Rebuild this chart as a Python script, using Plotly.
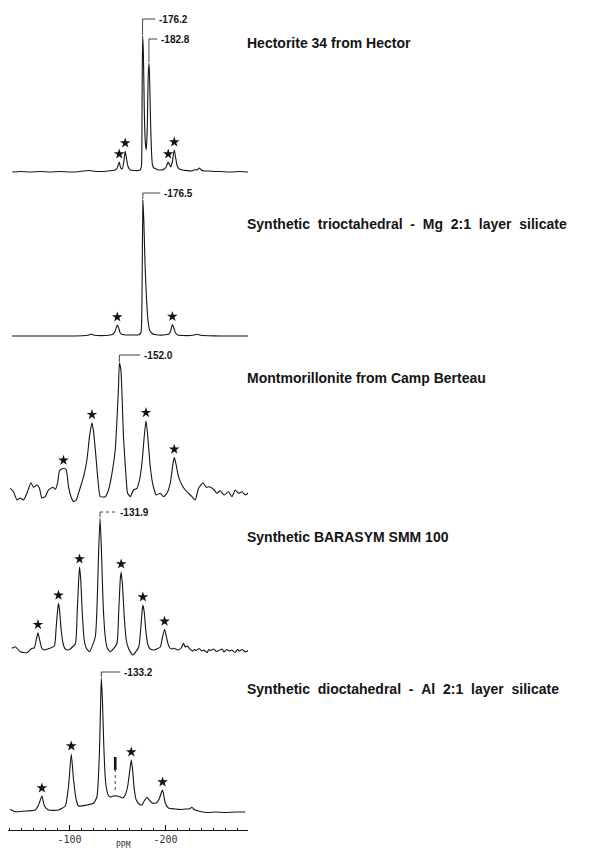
import plotly.graph_objects as go

# ---------------- data (chemical shift magnitude in ppm, intensity a.u.) ----------------
hectorite = [
    (40.4, 0), (48.7, 0.5), (59.2, 0), (69.6, 0.5), (80.0, 0), (90.4, 0.5), (100.8, 0),
    (111.2, 0.5), (119.6, 1.5), (123.7, 1), (132.1, 0.5), (140.4, 1), (144.6, 1.5),
    (147.7, 2), (149.8, 4), (151.9, 10), (153.4, 4), (155.0, 3), (156.6, 10), (158.1, 21),
    (159.7, 12), (161.2, 5), (163.3, 2), (167.5, 1.5), (171.7, 1.5), (173.7, 2), (175.0, 6),
    (175.6, 60), (176.2, 136), (177.0, 120), (178.0, 60), (179.0, 30), (180.0, 22),
    (181.1, 45), (182.0, 95), (182.8, 109), (183.5, 95), (184.5, 50), (185.5, 20),
    (186.5, 7), (188.0, 4), (190.4, 3), (192.5, 2), (194.6, 2), (196.7, 2), (198.7, 3),
    (200.8, 5), (201.9, 8), (202.9, 10), (203.9, 8), (205.5, 5), (207.1, 10), (209.2, 22),
    (210.7, 14), (212.3, 6), (214.4, 3), (217.5, 2), (221.7, 1.5), (225.8, 1), (229.0, 1.5),
    (231.0, 2.5), (233.1, 2), (235.2, 4), (237.3, 2), (240.4, 1), (244.6, 1), (251.9, 0.5),
    (257.1, 0.5), (267.5, 0), (277.9, 0.5), (286.2, 0),
]

synth_trioct = [
    (40.4, 0), (59.2, 0), (80.0, 0), (100.8, 0), (116.4, 0.5), (120.6, 1), (122.7, 2),
    (124.8, 1), (128.9, 0.5), (137.3, 0.5), (142.5, 1), (145.6, 2), (147.7, 5), (149.8, 11),
    (151.3, 8), (152.9, 3), (155.0, 1.5), (159.2, 1), (165.4, 1), (170.6, 1), (173.0, 1.5),
    (174.6, 4), (175.6, 40), (176.5, 136), (177.5, 115), (178.8, 70), (180.4, 35),
    (181.9, 15), (183.5, 6), (185.6, 3), (188.7, 1.5), (193.0, 1), (198.0, 1), (201.5, 1.5),
    (203.5, 2), (205.5, 5), (207.2, 11.5), (208.8, 8), (210.5, 3), (213.0, 1), (218.6, 0.5),
    (225.8, 0.5), (229.8, 1), (233.1, 1.8), (236.3, 0.8), (244.6, 0.3), (257.1, 0),
    (272.7, 0), (286.2, 0),
]

montmorillonite = [
    (38.3, 9.7), (41.8, 6.3), (45.3, -2), (48.7, 0), (52.2, -2), (55.7, 4.7), (59.9, 15.3),
    (62.6, 10.7), (66.1, 13), (68.8, 9.7), (71.3, 0), (74.8, 1.3), (78.2, 8), (82.8, 10.7),
    (85.2, 8.7), (87.6, 14.7), (89.7, 27.3), (93.8, 29.7), (96.7, 28), (99.0, 11.3),
    (101.6, 1.3), (104.3, -3.7), (107.1, -2), (110.5, 8), (114.7, 21.3), (118.2, 38),
    (120.9, 61.3), (123.4, 75.3), (125.1, 66.3), (127.6, 41.3), (129.7, 18), (132.1, 1.3),
    (137.3, 1.3), (140.7, 8), (144.3, 24.7), (147.7, 48), (149.5, 78), (151.1, 111),
    (152.0, 135), (153.6, 128), (156.3, 61), (159.2, 18), (160.5, 5), (163.3, 1.3),
    (166.7, 8), (170.3, 9.7), (173.0, 18), (175.5, 34.7), (177.9, 61.3), (179.7, 77.3),
    (181.3, 64.7), (184.2, 31.3), (187.0, 13), (190.4, 3), (194.6, 4.7), (198.0, 1.3),
    (201.5, 4.7), (205.0, 14.7), (207.4, 31.3), (209.2, 40.7), (211.2, 33), (213.6, 21.3),
    (217.2, 13), (220.6, 8), (224.1, 4.7), (227.6, 1.3), (231.0, -2), (234.5, 9.7),
    (239.1, 15.3), (242.5, 10.7), (245.9, 11.3), (250.1, 8.7), (253.6, 4.7), (257.1, 7.3),
    (261.2, 3), (265.7, 6.3), (269.3, 1.3), (272.7, 8), (276.1, 4.7), (279.7, 6.3),
    (283.1, 3), (286.6, 5.3),
]

barasym = [
    (40.1, 3.7), (43.5, 5.3), (48.7, 0.3), (55.7, -0.7), (60.9, 3.7), (63.3, 4), (65.4, 12),
    (67.2, 19.3), (69.0, 12), (71.1, 4), (73.2, 2), (76.5, 2.7), (84.2, 6), (86.2, 25),
    (87.8, 43), (88.6, 48.7), (89.7, 42), (91.4, 22), (93.5, 8), (95.6, 3), (99.0, 2),
    (106.0, 8), (108.1, 40), (109.5, 70), (110.5, 85), (111.8, 72), (113.3, 40), (115.4, 12),
    (117.5, 4), (120.9, 0.3), (126.9, 15), (128.9, 50), (130.4, 100), (131.9, 134),
    (133.4, 100), (135.0, 50), (137.3, 15), (139.4, 4), (142.5, 0.3), (149.3, 8),
    (151.3, 40), (152.9, 72), (153.9, 80), (155.3, 66), (157.1, 35), (159.2, 12),
    (161.8, 3), (166.1, -3), (172.2, 5), (174.3, 24), (175.8, 42), (176.5, 47), (177.9, 40),
    (179.5, 22), (181.5, 8), (184.2, 3), (188.3, 2), (194.6, 5), (196.7, 14), (199.1, 22.7),
    (201.3, 14), (203.4, 6), (206.0, 3), (208.4, 3.7), (213.3, 2), (216.4, 4), (218.8, 8.7),
    (220.6, 5), (222.7, 6), (225.5, 3), (228.0, 1), (230.5, 2.5), (232.0, 1.5), (235.0, 3.5),
    (238.0, 1), (240.0, 2), (243.5, -0.5), (245.0, 2.5), (247.0, 1.5), (250.5, 3),
    (253.0, 0.5), (255.5, 1.5), (259.0, 3), (261.0, 0), (264.0, 2.5), (266.5, 1),
    (269.0, 2), (272.5, -0.5), (275.0, 2.5), (276.9, 1), (280.0, 2.5), (283.1, 0),
    (286.2, 1.5),
]

synth_dioct = [
    (38.3, 1.7), (43.5, -0.7), (55.7, 0), (64.4, 1), (67.8, 6), (71.3, 15), (74.0, 5),
    (78.2, 1), (88.6, 1), (95.6, 5), (99.0, 24), (101.9, 57), (104.3, 31), (107.1, 11),
    (109.5, 5), (118.2, 6), (125.1, 7.7), (128.6, 14), (130.0, 30), (131.3, 60),
    (132.4, 105), (133.2, 133), (134.4, 110), (135.8, 65), (137.2, 35), (138.3, 24),
    (140.4, 16), (142.5, 14), (145.6, 15), (149.5, 15), (152.9, 14), (155.5, 13),
    (158.1, 16), (160.7, 25), (162.8, 40), (164.4, 51), (165.7, 42), (167.5, 22),
    (169.6, 11), (172.7, 7), (175.5, 6), (177.9, 10), (180.7, 13.7), (183.1, 11),
    (186.2, 8), (190.4, 8), (193.5, 12), (195.6, 18), (197.0, 21), (198.2, 16), (199.8, 8),
    (203.2, 3), (210.2, 2), (215.4, 1.5), (220.6, 2), (224.8, 2), (227.6, 3.7), (230.0, 1.5),
    (234.2, 0), (243.2, -1.5), (251.9, -1), (262.3, -1.5), (272.7, -1), (283.1, -1),
]

titles = [
    "Hectorite 34 from Hector",
    "Synthetic trioctahedral - Mg 2:1 layer silicate",
    "Montmorillonite from Camp Berteau",
    "Synthetic BARASYM SMM 100",
    "Synthetic dioctahedral - Al 2:1 layer silicate",
]

# spinning side bands (marked with stars), ppm magnitude
sidebands = [
    [151.9, 158.1, 202.9, 209.2],
    [149.8, 207.2],
    [93.8, 123.4, 179.7, 209.2],
    [67.2, 88.6, 110.5, 153.9, 176.5, 199.1],
    [71.3, 101.9, 164.4, 197.0],
]

# labelled peaks: (text, spectrum index, ppm magnitude)
peak_labels = [
    ("-176.2", 0, 176.2),
    ("-182.8", 0, 182.8),
    ("-176.5", 1, 176.5),
    ("-152.0", 2, 152.0),
    ("-131.9", 3, 131.9),
    ("-133.2", 4, 133.2),
]

# impurity marker ("i") in the dioctahedral spectrum
impurity_ppm = 147.7

axis_ticks = [-100, -200]

# ---------------- layout constants ----------------
spectra = [hectorite, synth_trioct, montmorillonite, barasym, synth_dioct]
baselines = [658, 494, 332, 178, 19]
title_y = [787, 606, 452, 293, 141]
label_level = [811, 791, 637, 475, 318, 158]
label_line_end = [189.4, 191.4, 194.6, 173.7, 147.7, 152.9]
label_text_x = [191.5, 193.0, 196.5, 175.5, 150.5, 154.5]

INK = "#141414"
TFONT = "Liberation Sans, Arial, sans-serif"
fig = go.Figure()


def value_near(pairs, ppm, tol=1.6):
    return max(v for p, v in pairs if abs(p - ppm) <= tol)


for pairs, base in zip(spectra, baselines):
    fig.add_trace(go.Scatter(
        x=[-p for p, _ in pairs], y=[base + v for _, v in pairs],
        mode="lines", line=dict(color=INK, width=1.1, shape="spline", smoothing=0.5),
        hoverinfo="skip", showlegend=False))

# stars above side bands
sx, sy = [], []
for pairs, base, sbs in zip(spectra, baselines, sidebands):
    for s in sbs:
        sx.append(-s)
        sy.append(base + value_near(pairs, s) + 8)
fig.add_trace(go.Scatter(x=sx, y=sy, mode="markers",
                         marker=dict(symbol="star", size=8, color=INK, line=dict(width=0)),
                         hoverinfo="skip", showlegend=False))

shapes = []
annotations = []
for (txt, idx, ppm), lvl, lend, tx in zip(peak_labels, label_level, label_line_end, label_text_x):
    top = baselines[idx] + value_near(spectra[idx], ppm, 0.3)
    dash = "dot" if txt == "-131.9" else "solid"
    shapes.append(dict(type="line", xref="x", yref="y", x0=-ppm, x1=-ppm, y0=top + 1, y1=lvl,
                       line=dict(color=INK, width=0.8)))
    shapes.append(dict(type="line", xref="x", yref="y", x0=-ppm, x1=-lend, y0=lvl, y1=lvl,
                       line=dict(color=INK, width=0.8, dash=dash)))
    annotations.append(dict(x=-tx, y=lvl, xref="x", yref="y", text=txt, showarrow=False,
                            xanchor="left", yanchor="middle",
                            font=dict(family=TFONT, size=10, color=INK, weight="bold")))

# impurity marker
ib = baselines[4]
shapes.append(dict(type="line", xref="x", yref="y", x0=-impurity_ppm, x1=-impurity_ppm,
                   y0=ib + 41, y1=ib + 54, line=dict(color=INK, width=2.6)))
shapes.append(dict(type="line", xref="x", yref="y", x0=-impurity_ppm, x1=-impurity_ppm,
                   y0=ib + 21, y1=ib + 41, line=dict(color=INK, width=0.8, dash="dot")))

for t, ty in zip(titles, title_y):
    shown = t.replace(" ", "\u00a0\u00a0") if len(t) > 40 else t
    annotations.append(dict(x=0.9875, y=ty, xref="paper", yref="y", text=shown, showarrow=False,
                            xanchor="left", yanchor="middle",
                            font=dict(family=TFONT, size=14, color=INK, weight="bold")))

annotations.append(dict(x=0.48, y=0, xref="paper", yref="paper", text="PPM", showarrow=False,
                        xanchor="center", yanchor="top", yshift=-9,
                        font=dict(family="DejaVu Sans Mono, monospace", size=8, color="#333")))

# the page body has an 8px margin, so the figure is 8px smaller than the window
fig.update_layout(
    width=585, height=843,
    margin=dict(l=0, r=345, t=0, b=21, autoexpand=False),
    paper_bgcolor="white", plot_bgcolor="white",
    shapes=shapes, annotations=annotations,
    xaxis=dict(range=[-36, -286], tickmode="array", tickvals=axis_ticks,
               ticktext=[str(v) for v in axis_ticks],
               ticks="inside", ticklen=5, tickwidth=1, tickcolor=INK,
               showline=True, linecolor=INK, linewidth=1,
               showgrid=False, zeroline=False,
               tickfont=dict(family="DejaVu Sans Mono, monospace", size=10, color="#333"),
               minor=dict(tickmode="linear", tick0=0, dtick=12.5, ticks="inside",
                          ticklen=2, tickcolor=INK, showgrid=False),
               fixedrange=True),
    yaxis=dict(range=[0, 822], visible=False, showgrid=False, zeroline=False, fixedrange=True),
)

fig.write_html("out.html")
